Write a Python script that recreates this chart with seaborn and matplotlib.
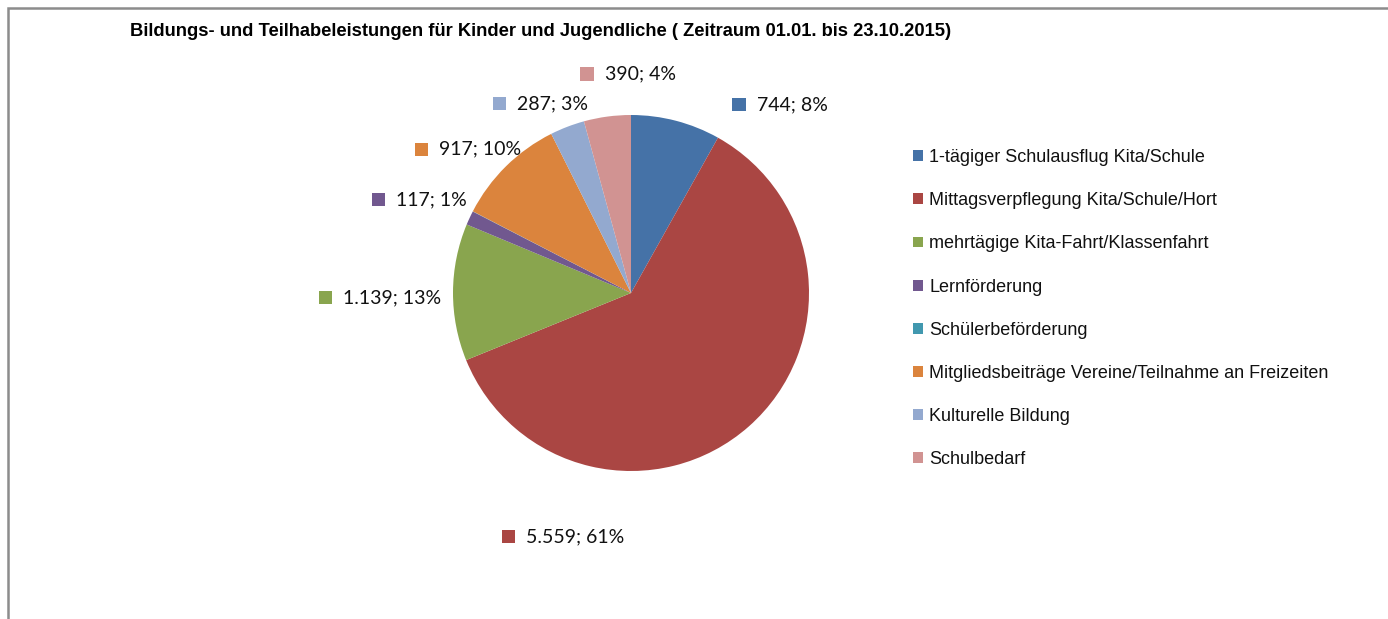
import numpy as np
import pandas as pd
import seaborn as sns
import matplotlib
matplotlib.use('Agg')
import matplotlib.pyplot as plt
from matplotlib.patches import Patch, Rectangle
from matplotlib.offsetbox import AnnotationBbox, HPacker, TextArea, DrawingArea

# data
categories = ['1-tägiger Schulausflug Kita/Schule',
              'Mittagsverpflegung Kita/Schule/Hort',
              'mehrtägige Kita-Fahrt/Klassenfahrt',
              'Lernförderung',
              'Schülerbeförderung',
              'Mitgliedsbeiträge Vereine/Teilnahme an Freizeiten',
              'Kulturelle Bildung',
              'Schulbedarf']
values = [744, 5559, 1139, 117, 2, 917, 287, 390]
# percentages as printed on the chart
percent_labels = [8, 61, 13, 1, 0, 10, 3, 4]
colors = ['#4572A7', '#AA4643', '#89A54E', '#71588F',
          '#4198AF', '#DB843D', '#93A9CF', '#D19392']
title = 'Bildungs- und Teilhabeleistungen für Kinder und Jugendliche ( Zeitraum 01.01. bis 23.10.2015)'

df = pd.DataFrame({'kategorie': categories, 'wert': values,
                   'prozent': percent_labels, 'farbe': colors})

# label placement relative to slice middle (excel "best fit" look)
label_shift = [23.7, 57.0, -1.3, -1.1, 0.0, -3.9, -4.6, 6.9]
label_dist = [1.35, 1.42, 1.41, 1.30, 0.0, 1.22, 1.18, 1.23]

sns.set_theme(style='white')
plt.rcParams['font.family'] = ['Liberation Sans', 'DejaVu Sans']

W, H = 1388, 619
fig = plt.figure(figsize=(W / 100, H / 100), dpi=100)

# outer chart border
fig.patches.append(Rectangle((7.5 / W, -0.1), 1.2, 1 - 7.5 / H + 0.1,
                             transform=fig.transFigure, fill=False,
                             edgecolor='#8c8c8c', linewidth=1.8))

cx, cy, r = 631, 293, 178
half = 290
ax = fig.add_axes([(cx - half) / W, 1 - (cy + half) / H, 2 * half / W, 2 * half / H])

wedges, _ = ax.pie(df['wert'], colors=df['farbe'], startangle=90,
                   counterclock=False, radius=1.0,
                   wedgeprops=dict(linewidth=0))
ax.set_xlim(-half / r, half / r)
ax.set_ylim(-half / r, half / r)
ax.set_aspect('equal')
ax.axis('off')

def fmt(v):
    return f'{v:,}'.replace(',', '.')

total = df['wert'].sum()
cum = 0
for i, row in df.iterrows():
    mid = (cum + row['wert'] / 2) / total * 360
    cum += row['wert']
    if row['wert'] < 10:
        continue
    ang = np.deg2rad(90 - (mid + label_shift[i]))
    x = label_dist[i] * np.cos(ang)
    y = label_dist[i] * np.sin(ang)
    da = DrawingArea(9.5, 9.5, 0, 0)
    da.add_artist(Rectangle((0, 0), 9.5, 9.5, facecolor=row['farbe'], edgecolor='none'))
    txt = TextArea(f"{fmt(row['wert'])}; {row['prozent']}%",
                   textprops=dict(fontsize=14, family=['Lato', 'DejaVu Sans'], color='#111111'))
    box = HPacker(children=[da, txt], align='center', pad=0, sep=8)
    ab = AnnotationBbox(box, (x, y), frameon=False, box_alignment=(0.5, 0.5),
                        annotation_clip=False)
    ax.add_artist(ab)

fig.text(130 / W, 1 - 32 / H, title, fontsize=13.2, fontweight='bold',
         ha='left', va='center', color='black')

handles = [Patch(facecolor=c, edgecolor='none') for c in colors]
fig.legend(handles, categories, loc='upper left', bbox_to_anchor=(913 / W, 1 - 149 / H),
           frameon=False, fontsize=13, handlelength=0.55, handleheight=0.55,
           handletextpad=0.35, labelspacing=1.45, borderaxespad=0, borderpad=0,
           labelcolor='#111111')

fig.savefig('out.png', dpi=100)
